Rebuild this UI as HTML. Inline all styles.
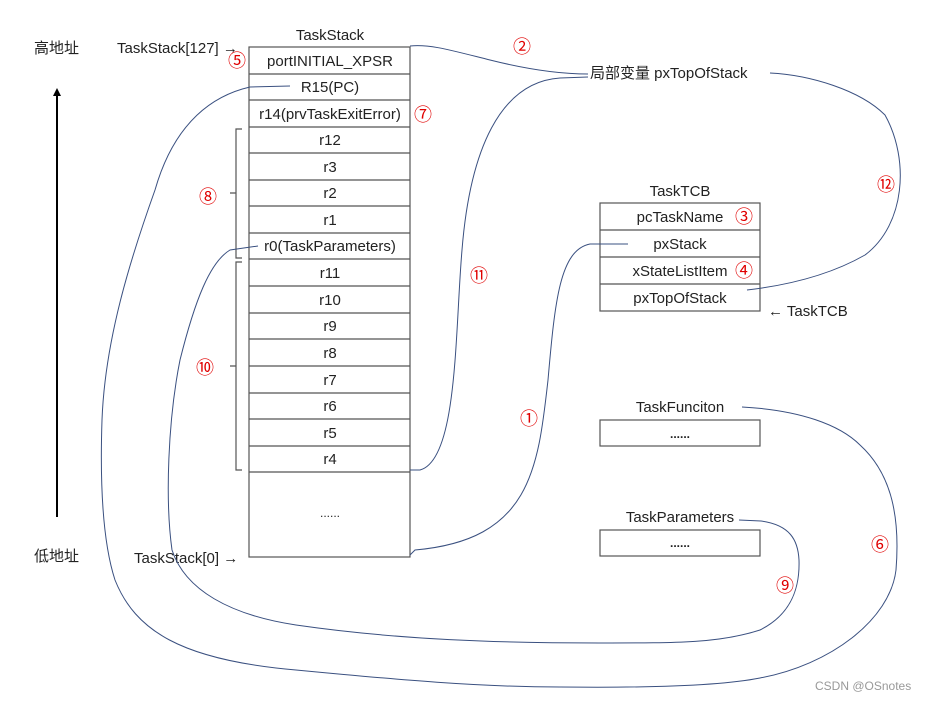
<!DOCTYPE html>
<html><head><meta charset="utf-8"><style>
body{margin:0;background:#fff;}
svg text{font-family:"Liberation Sans","Noto Sans CJK SC",sans-serif;}
</style></head><body>
<svg width="927" height="699" viewBox="0 0 927 699" xmlns="http://www.w3.org/2000/svg">
<rect width="927" height="699" fill="#fff"/>
<g font-size="15" fill="#222" text-anchor="middle">
<text x="330" y="40">TaskStack</text>
<text x="330" y="66">portINITIAL_XPSR</text>
<text x="330" y="92">R15(PC)</text>
<text x="330" y="119">r14(prvTaskExitError)</text>
<text x="330" y="145">r12</text>
<text x="330" y="172">r3</text>
<text x="330" y="198">r2</text>
<text x="330" y="225">r1</text>
<text x="330" y="251">r0(TaskParameters)</text>
<text x="330" y="278">r11</text>
<text x="330" y="305">r10</text>
<text x="330" y="331">r9</text>
<text x="330" y="358">r8</text>
<text x="330" y="385">r7</text>
<text x="330" y="411">r6</text>
<text x="330" y="438">r5</text>
<text x="330" y="464">r4</text>
<text x="330" y="517" font-size="12">......</text>
<text x="680" y="196">TaskTCB</text>
<text x="680" y="222">pcTaskName</text>
<text x="680" y="249">pxStack</text>
<text x="680" y="276">xStateListItem</text>
<text x="680" y="303">pxTopOfStack</text>
<text x="680" y="412">TaskFunciton</text>
<text x="680" y="438" font-weight="bold" font-size="12">......</text>
<text x="680" y="522">TaskParameters</text>
<text x="680" y="547" font-weight="bold" font-size="12">......</text>
</g>
<g font-size="15" fill="#222">
<text x="34" y="53">高地址</text>
<text x="34" y="561">低地址</text>
<text x="117" y="53">TaskStack[127] →</text>
<text x="134" y="563">TaskStack[0] →</text>
<text x="590" y="78">局部变量 pxTopOfStack</text>
<text x="768" y="316">← TaskTCB</text>
<text x="815" y="690" font-size="12" fill="#999">CSDN @OSnotes</text>
</g>
<g font-size="18" fill="#e00000">
<text x="228" y="67">⑤</text>
<text x="414" y="121">⑦</text>
<text x="513" y="53">②</text>
<text x="199" y="203">⑧</text>
<text x="196" y="374">⑩</text>
<text x="470" y="282">⑪</text>
<text x="735" y="223">③</text>
<text x="735" y="277">④</text>
<text x="877" y="191">⑫</text>
<text x="520" y="425">①</text>
<text x="871" y="551">⑥</text>
<text x="776" y="592">⑨</text>
</g>
<g stroke="#555" stroke-width="1.2" fill="none">
<rect x="249" y="47" width="161" height="510"/>
<path d="M249 74H410M249 100H410M249 127H410M249 153H410M249 180H410M249 206H410M249 233H410M249 259H410M249 286H410M249 313H410M249 339H410M249 366H410M249 393H410M249 419H410M249 446H410M249 472H410"/>
<rect x="600" y="203" width="160" height="108"/>
<path d="M600 230H760M600 257H760M600 284H760"/>
<rect x="600" y="420" width="160" height="26"/>
<rect x="600" y="530" width="160" height="26"/>
<path d="M242 129H236V193H230M236 193V258H242"/>
<path d="M242 262H236V366H230M236 366V470H242"/>
</g>
<path d="M57 517V94" stroke="#000" stroke-width="2"/>
<path d="M57 88L53 96H61Z" fill="#000"/>
<g stroke="#3a5080" stroke-width="1" fill="none">
<path d="M410 46C430 44 450 50 490 60C530 70 560 74 588 74"/>
<path d="M588 77L560 78C500 82 470 150 462 250C455 330 458 460 420 470L410 470"/>
<path d="M628 244L590 244C560 250 555 300 548 380C538 470 530 540 415 550L410 555"/>
<path d="M747 290C790 285 830 275 865 255C905 225 910 160 885 115C860 90 810 75 770 73"/>
<path d="M290 86L250 87C215 95 175 120 155 190C130 260 105 340 102 420C100 480 102 540 115 580C135 630 180 660 296 670C400 680 480 687 560 687C650 688 720 686 760 678C830 665 890 620 896 570C900 520 893 475 860 445C840 425 800 410 742 407"/>
<path d="M258 246L230 250C210 262 195 300 180 360C168 420 165 500 172 550C185 590 230 615 296 625C400 640 500 643 600 643C680 643 720 643 760 630C790 615 800 590 799 560C798 540 790 525 761 521L739 520"/>
</g>
</svg>
</body></html>
